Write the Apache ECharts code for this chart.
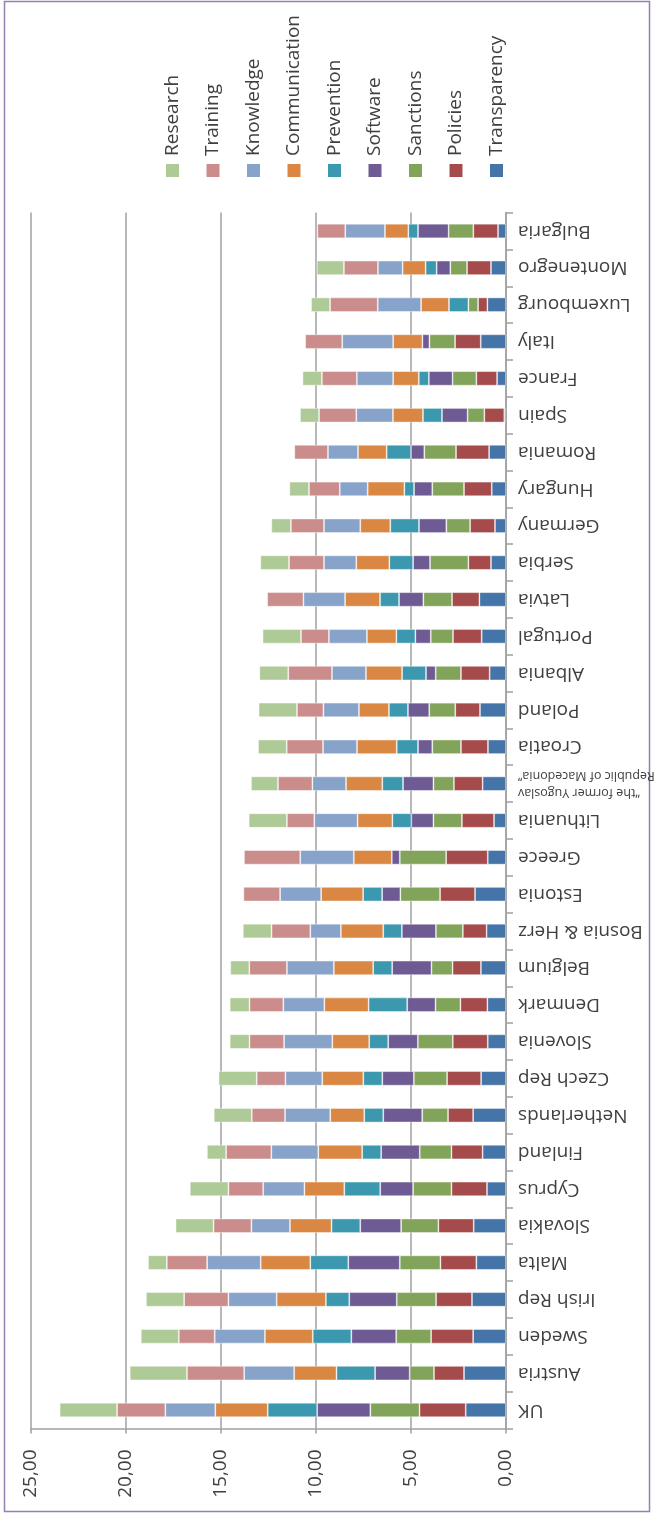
<!DOCTYPE html>
<html><head><meta charset="utf-8">
<script src="https://cdn.jsdelivr.net/npm/echarts@6/dist/echarts.min.js"></script>
<style>html,body{margin:0;padding:0;background:#fff}#c{width:654px;height:1517px}</style>
</head><body><div id="c"></div>
<script>
// Categories, bottom (UK) to top (Bulgaria)
const categories = ['UK','Austria','Sweden','Irish Rep','Malta','Slovakia','Cyprus','Finland','Netherlands','Czech Rep','Slovenia','Denmark','Belgium','Bosnia & Herz','Estonia','Greece','Lithuania','\u201Cthe former Yugoslav\nRepublic of Macedonia\u201D','Croatia','Poland','Albania','Portugal','Latvia','Serbia','Germany','Hungary','Romania','Spain','France','Italy','Luxembourg','Montenegro','Bulgaria'];

const transparency = [2.12,2.21,1.73,1.79,1.56,1.70,1.00,1.23,1.73,1.31,0.96,0.98,1.32,1.02,1.63,0.96,0.63,1.23,0.95,1.37,0.86,1.28,1.40,0.79,0.58,0.75,0.89,0.09,0.47,1.33,0.98,0.79,0.42];
const policies     = [2.43,1.58,2.21,1.89,1.89,1.86,1.87,1.64,1.32,1.79,1.84,1.42,1.49,1.25,1.84,2.19,1.69,1.51,1.42,1.30,1.51,1.51,1.44,1.19,1.31,1.46,1.74,1.05,1.09,1.35,0.49,1.26,1.30];
const sanctions    = [2.59,1.28,1.84,2.07,2.14,1.96,2.02,1.67,1.36,1.75,1.84,1.31,1.11,1.42,2.09,2.44,1.50,1.08,1.51,1.37,1.33,1.17,1.51,2.02,1.25,1.67,1.67,0.88,1.25,1.35,0.51,0.88,1.30];
const software     = [2.80,1.82,2.36,2.50,2.71,2.15,1.73,2.03,2.05,1.66,1.56,1.49,2.07,1.79,0.96,0.42,1.16,1.60,0.75,1.12,0.51,0.81,1.28,0.89,1.44,0.96,0.70,1.35,1.25,0.37,0,0.72,1.61];
const prevention   = [2.60,2.03,2.03,1.23,2.00,1.51,1.89,1.00,1.00,1.00,1.00,2.03,1.00,0.98,1.00,0,1.00,1.09,1.12,1.00,1.26,1.00,1.00,1.25,1.51,0.51,1.28,1.00,0.53,0,1.02,0.58,0.51];
const communication= [2.76,2.23,2.52,2.59,2.61,2.19,2.10,2.31,1.79,2.16,1.94,2.33,2.07,2.23,2.21,2.00,1.83,1.91,2.09,1.58,1.90,1.55,1.84,1.74,1.58,1.93,1.51,1.58,1.35,1.54,1.47,1.21,1.23];
const knowledge    = [2.63,2.63,2.64,2.54,2.82,2.03,2.17,2.47,2.38,1.94,2.54,2.16,2.47,1.61,2.16,2.82,2.28,1.77,1.79,1.87,1.79,2.00,2.19,1.70,1.91,1.47,1.58,1.93,1.91,2.68,2.28,1.30,2.09];
const training     = [2.54,3.01,1.89,2.33,2.12,1.99,1.83,2.38,1.75,1.51,1.82,1.78,1.98,2.04,1.93,2.96,1.44,1.81,1.91,1.39,2.30,1.47,1.91,1.84,1.74,1.62,1.77,1.96,1.84,1.95,2.51,1.79,1.47];
const research     = [3.02,3.01,2.00,2.01,0.99,2.00,2.03,1.01,2.00,2.01,1.04,1.04,1.00,1.51,0,0,2.01,1.42,1.51,2.02,1.52,2.02,0,1.51,1.03,1.03,0,1.00,1.02,0,1.00,1.43,0];

const valueTicks = [0,5,10,15,20,25];

const seriesDefs = [
  ['Transparency', transparency, '#4574a8'],
  ['Policies', policies, '#a54b4b'],
  ['Sanctions', sanctions, '#81a45a'],
  ['Software', software, '#6f5b93'],
  ['Prevention', prevention, '#3b98ae'],
  ['Communication', communication, '#da8744'],
  ['Knowledge', knowledge, '#88a3ca'],
  ['Training', training, '#ca8d8c'],
  ['Research', research, '#aeca96']
];
const legendOrder = ['Research','Training','Knowledge','Communication','Prevention','Software','Sanctions','Policies','Transparency'];

const chart = echarts.init(document.getElementById('c'), null, {renderer:'canvas'});
const FONT = 'Open Sans';
const TXT = '#404040';

const series = seriesDefs.map(([name, arr, color]) => ({
  name, type:'bar', stack:'total', barWidth:14.5,
  data: arr.map(v => v === 0 ? '-' : v),
  itemStyle:{color, borderColor:'rgba(255,255,255,0.55)', borderWidth:0.8},
  animation:false
}));

// legend drawn as graphics (rotated text)
const graphics = [{
  type:'rect', shape:{x:4.5, y:1.5, width:645, height:1510},
  style:{fill:'none', stroke:'#9481b0', lineWidth:1.5}, silent:true
}];
const colorMap = {}; seriesDefs.forEach(d => colorMap[d[0]] = d[2]);
legendOrder.forEach((name, i) => {
  const cx = 172.5 + i * 40.5;
  graphics.push({type:'rect', shape:{x:cx-6.5, y:164, width:13, height:13}, style:{fill:colorMap[name]}});
  graphics.push({type:'text', x:cx, y:156, rotation:Math.PI/2,
    style:{text:name, fill:TXT, font:'19px "'+FONT+'"', textAlign:'left', textVerticalAlign:'middle'}});
});

chart.setOption({
  backgroundColor:'#fff',
  animation:false,
  grid:{left:31, right:148, top:212.6, bottom:88.6, containLabel:false, outerBoundsMode:'none'},
  xAxis:{
    type:'value', min:0, max:25, interval:5, inverse:true, position:'bottom',
    axisLine:{show:true, lineStyle:{color:'#a0a0a0', width:1.5}},
    axisTick:{show:true, length:5, lineStyle:{color:'#a0a0a0', width:1.5}},
    splitLine:{show:true, lineStyle:{color:'#a0a0a0', width:1.5}},
    axisLabel:{rotate:90, margin:21, color:TXT, fontFamily:FONT, fontSize:19,
      formatter: v => valueTicks.indexOf(v) >= 0 ? v.toFixed(2).replace('.', ',') : ''}
  },
  yAxis:{
    type:'category', data:categories, position:'right',
    axisLine:{show:true, lineStyle:{color:'#a0a0a0', width:1.5}},
    axisTick:{show:true, length:7, lineStyle:{color:'#a0a0a0', width:1.5}},
    splitLine:{show:false},
    axisLabel:{rotate:180, margin:12, color:TXT, fontFamily:FONT, fontSize:19, interval:0,
      formatter: v => v.indexOf('\n') >= 0 ? '{s|' + v.split('\n').join('}\n{s|') + '}' : '{n|' + v + '}',
      rich:{
        s:{fontSize:12.5, fontFamily:FONT, color:TXT, lineHeight:17},
        n:{fontSize:19, fontFamily:FONT, color:TXT, padding:[0,0,0,4]}
      }}
  },
  series,
  graphic: graphics
});
</script>
</body></html>
